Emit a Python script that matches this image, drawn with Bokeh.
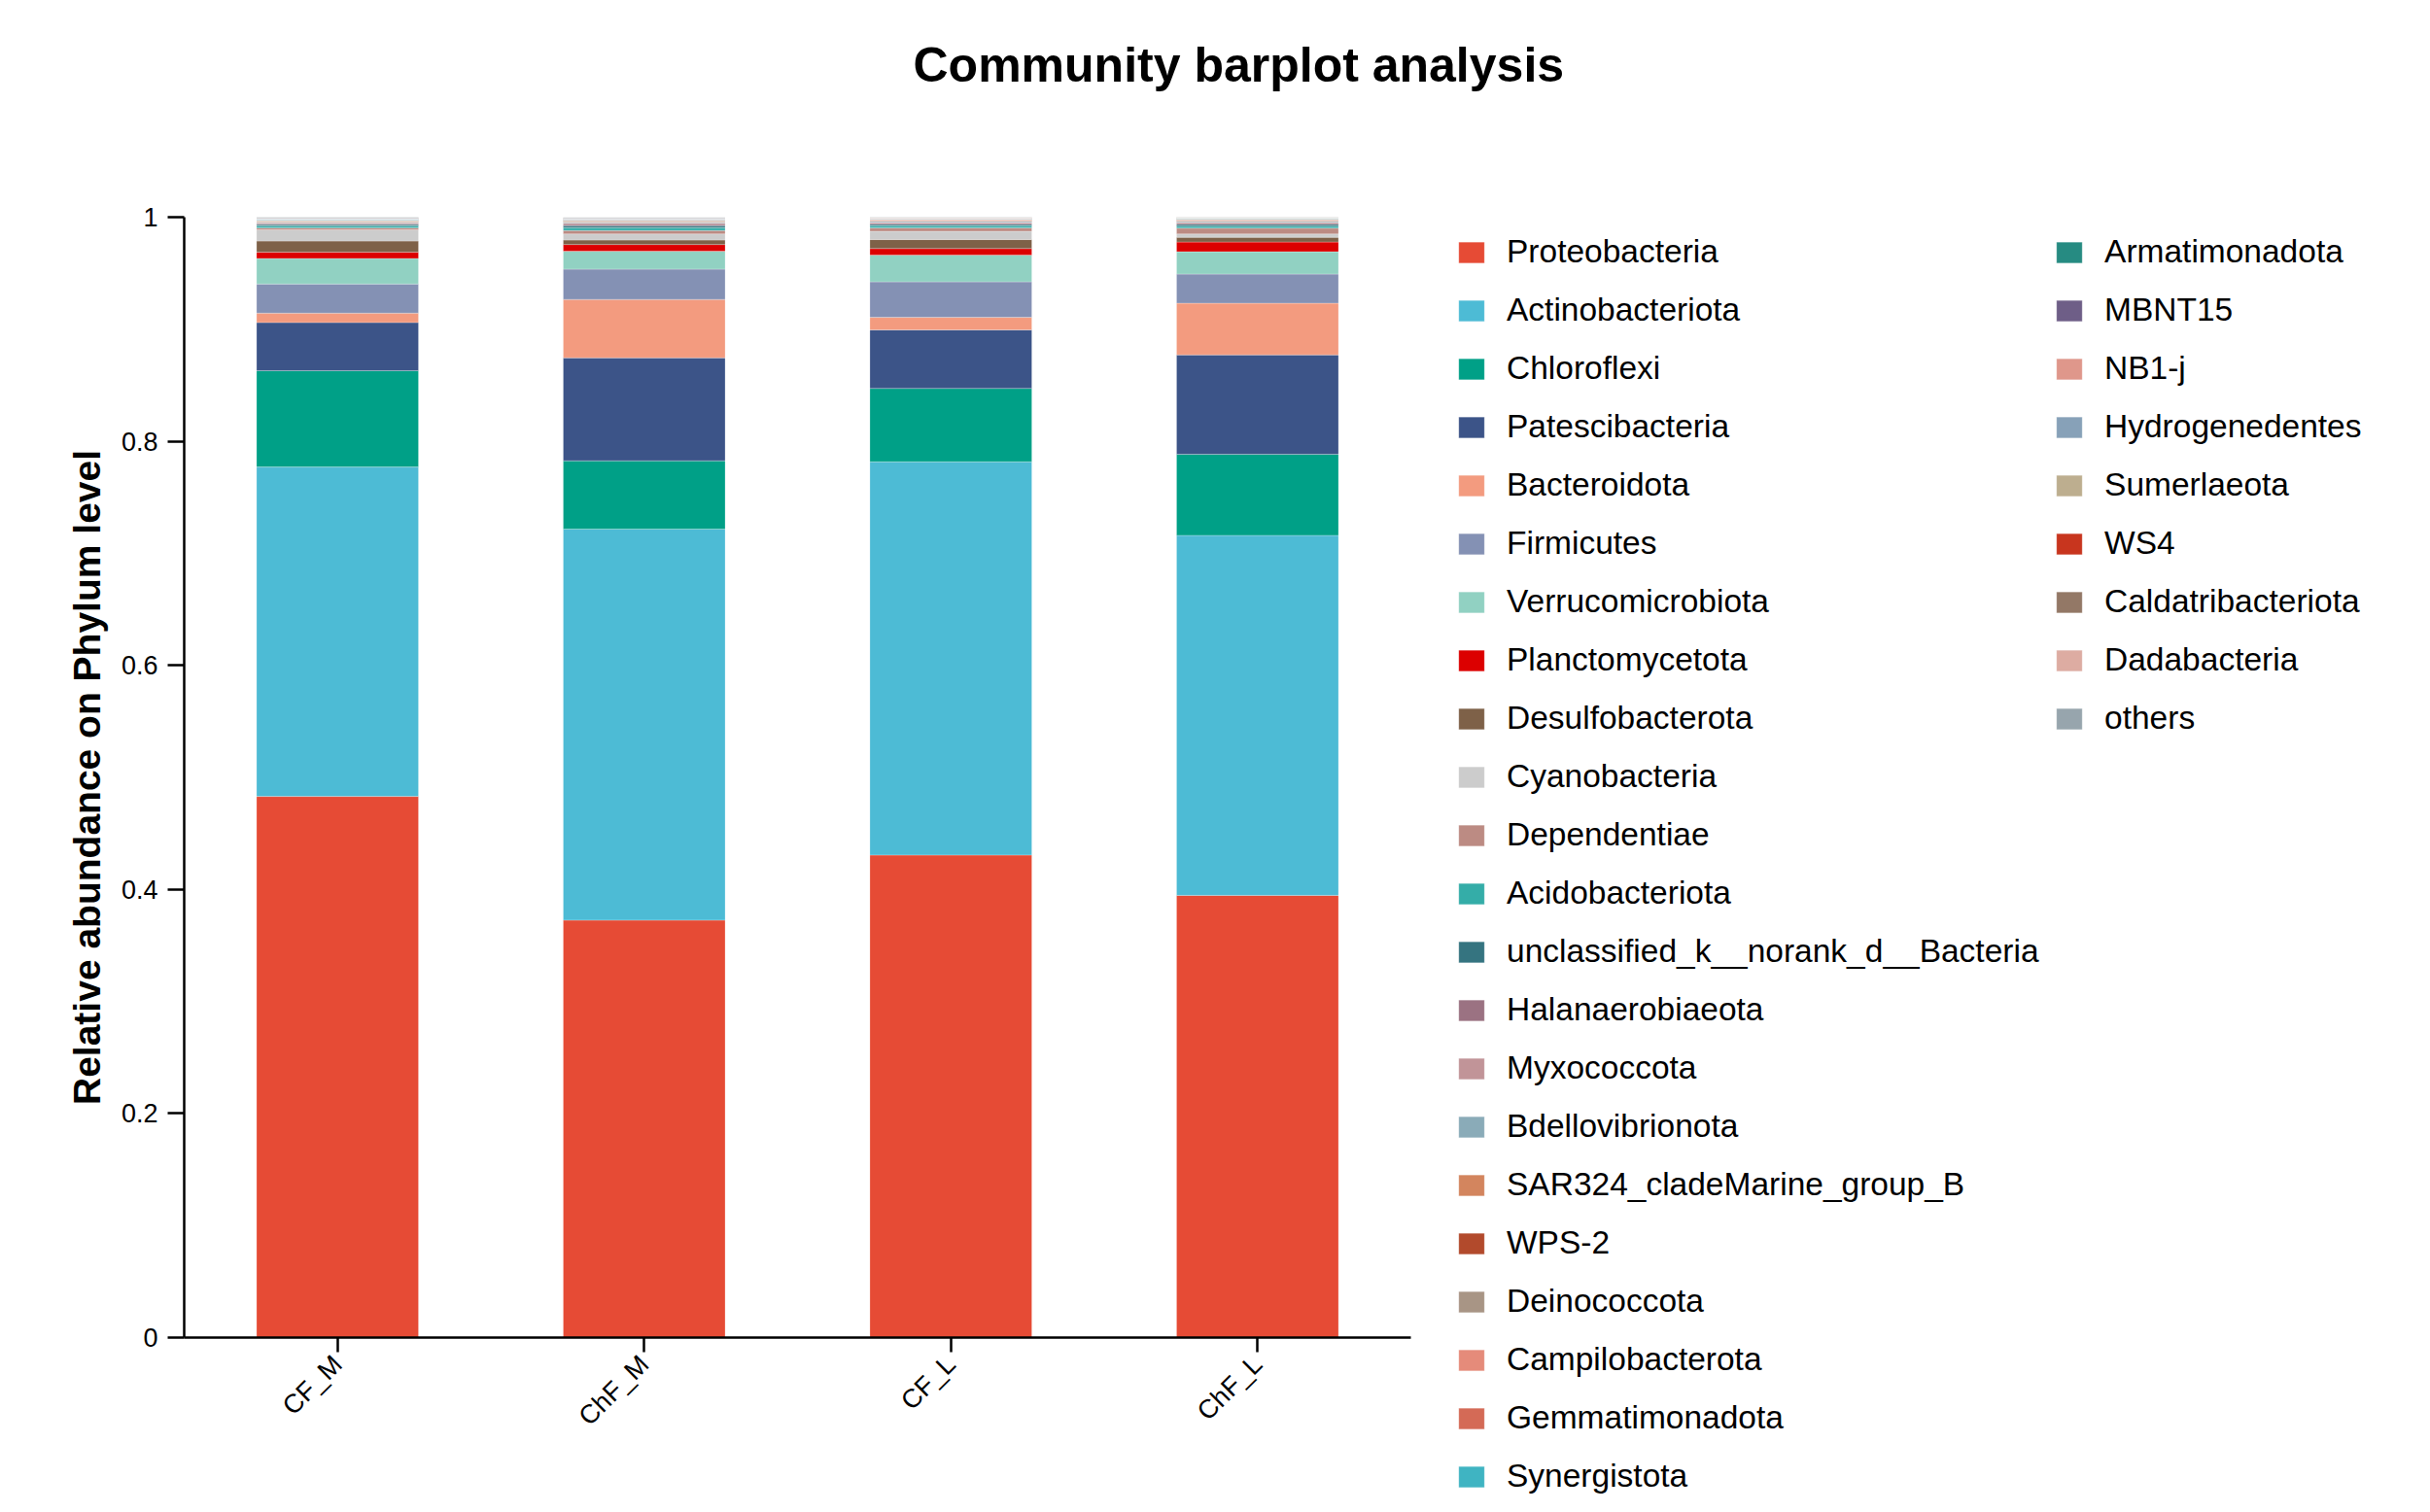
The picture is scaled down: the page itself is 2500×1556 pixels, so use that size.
import math
from bokeh.plotting import figure
from bokeh.models import Legend, LegendItem, FixedTicker, FactorRange, Range1d
from bokeh.embed import file_html
from bokeh.resources import INLINE

samples = ["CF_M", "ChF_M", "CF_L", "ChF_L"]

phyla = [
    "Proteobacteria", "Actinobacteriota", "Chloroflexi", "Patescibacteria",
    "Bacteroidota", "Firmicutes", "Verrucomicrobiota", "Planctomycetota",
    "Desulfobacterota", "Cyanobacteria", "Dependentiae", "Acidobacteriota",
    "unclassified_k__norank_d__Bacteria", "Halanaerobiaeota", "Myxococcota",
    "Bdellovibrionota", "SAR324_cladeMarine_group_B", "WPS-2", "Deinococcota",
    "Campilobacterota", "Gemmatimonadota", "Synergistota", "Armatimonadota",
    "MBNT15", "NB1-j", "Hydrogenedentes", "Sumerlaeota", "WS4",
    "Caldatribacteriota", "Dadabacteria", "others",
]

colors = [
    "#E64B35", "#4DBBD5", "#00A087", "#3C5488", "#F39B7F", "#8491B4",
    "#91D1C2", "#DC0000", "#7E6148", "#CCCCCC", "#BC8B83", "#34ADA8",
    "#357480", "#9B7282", "#C19498", "#8AABB8", "#D3855E", "#B24A2C",
    "#A89585", "#E58B7A", "#D46A56", "#3FB4C2", "#268B82", "#6E5E87",
    "#DF978B", "#87A1B8", "#BDAE8F", "#C8351E", "#937866", "#DDACA2",
    "#97A5AD",
]

cf_m = [0.483, 0.294, 0.086, 0.043, 0.0084, 0.026, 0.0228, 0.0055, 0.010,
        0.010, 0.0017, 0.0018, 0.0012, 0.0008, 0.0008, 0.0007, 0.0005,
        0.0003, 0.0004, 0.0003, 0.0003, 0.0003, 0.0002, 0.0002, 0.0002,
        0.0002, 0.0002, 0.0001, 0.0001, 0.0001, 0.0010]
chf_m = [0.3726, 0.349, 0.061, 0.0918, 0.0522, 0.027, 0.016, 0.006, 0.004,
         0.0055, 0.003, 0.0025, 0.0018, 0.0012, 0.0012, 0.0008, 0.0006,
         0.0004, 0.0004, 0.0004, 0.0003, 0.0002, 0.0002, 0.0002, 0.0002,
         0.0002, 0.0001, 0.0001, 0.0001, 0.0001, 0.0006]
cf_l = [0.4307, 0.351, 0.0655, 0.0522, 0.0112, 0.0317, 0.0239, 0.0058, 0.008,
        0.0074, 0.003, 0.002, 0.0012, 0.0009, 0.0008, 0.0007, 0.0005,
        0.0004, 0.0004, 0.0003, 0.0003, 0.0003, 0.0002, 0.0002, 0.0002,
        0.0002, 0.0002, 0.0001, 0.0001, 0.0001, 0.0005]
chf_l = [0.3947, 0.3213, 0.0724, 0.0887, 0.0461, 0.026, 0.020, 0.0086, 0.0043,
         0.0029, 0.0052, 0.0018, 0.0015, 0.0010, 0.0010, 0.0008, 0.0005,
         0.0004, 0.0004, 0.0003, 0.0003, 0.0003, 0.0002, 0.0002, 0.0002,
         0.0002, 0.0002, 0.0001, 0.0001, 0.0001, 0.0002]

y_ticks = [0, 0.2, 0.4, 0.6, 0.8, 1]
y_tick_labels = ["0", "0.2", "0.4", "0.6", "0.8", "1"]

data = {"sample": samples}
for i, ph in enumerate(phyla):
    data[ph] = [cf_m[i], chf_m[i], cf_l[i], chf_l[i]]

FONT = "Liberation Sans"
FRAME_W, FRAME_H = 1262, 1153
LEFT, TOP = 189, 223

p = figure(
    x_range=FactorRange(*samples, range_padding=0),
    y_range=Range1d(0, 1),
    frame_width=FRAME_W, frame_height=FRAME_H,
    min_border_left=LEFT, min_border_top=TOP,
    min_border_right=2484 - LEFT - FRAME_W, min_border_bottom=1540 - TOP - FRAME_H,
    output_backend="svg", toolbar_location=None,
)

p.title.text = "Community barplot analysis\n\n"
p.title.align = "left"
p.title.offset = 750
p.title.standoff = 33
p.title.text_font = FONT
p.title.text_font_size = "50px"
p.title.text_font_style = "bold"
p.title.text_color = "black"

renderers = p.vbar_stack(
    phyla, x="sample", width=0.528, source=data,
    fill_color=colors, line_color="white", line_width=0.5, line_alpha=0.5,
)

p.xgrid.grid_line_color = None
p.ygrid.grid_line_color = None
p.outline_line_color = None

for ax in (p.xaxis[0], p.yaxis[0]):
    ax.axis_line_width = 2.5
    ax.axis_line_color = "black"
    ax.major_tick_line_width = 2.5
    ax.major_tick_line_color = "black"
    ax.major_tick_in = 0
    ax.minor_tick_line_color = None
    ax.major_label_text_font = FONT
    ax.major_label_text_font_size = "27px"
    ax.major_label_text_color = "black"

p.yaxis.ticker = FixedTicker(ticks=y_ticks)
p.yaxis.major_label_overrides = {t: l for t, l in zip(y_ticks, y_tick_labels)}
p.yaxis.major_tick_out = 17
p.yaxis.major_label_standoff = 10
p.yaxis.axis_label = "Relative abundance on Phylum level"
p.yaxis.axis_label_text_font = FONT
p.yaxis.axis_label_text_font_style = "bold"
p.yaxis.axis_label_text_font_size = "39px"
p.yaxis.axis_label_text_color = "black"
p.yaxis.axis_label_standoff = 11

p.xaxis.major_tick_out = 15
p.xaxis.major_label_orientation = math.pi / 4
p.xaxis.major_label_standoff = 8

legend_style = dict(
    orientation="vertical", padding=0, spacing=22,
    glyph_width=33, glyph_height=27, label_height=38, label_standoff=20,
    label_text_font=FONT, label_text_font_size="33.5px",
    label_text_color="black", border_line_color=None, background_fill_alpha=0,
)
items = [LegendItem(label=ph, renderers=[r]) for ph, r in zip(phyla, renderers)]
legend_a = Legend(items=items[:22], location=(46, -162), margin=-237, **legend_style)
legend_b = Legend(items=items[22:], location=(3, 618), margin=-236, **legend_style)
p.add_layout(legend_a, "right")
p.add_layout(legend_b, "right")

open("out.html", "w").write(file_html(p, INLINE))
